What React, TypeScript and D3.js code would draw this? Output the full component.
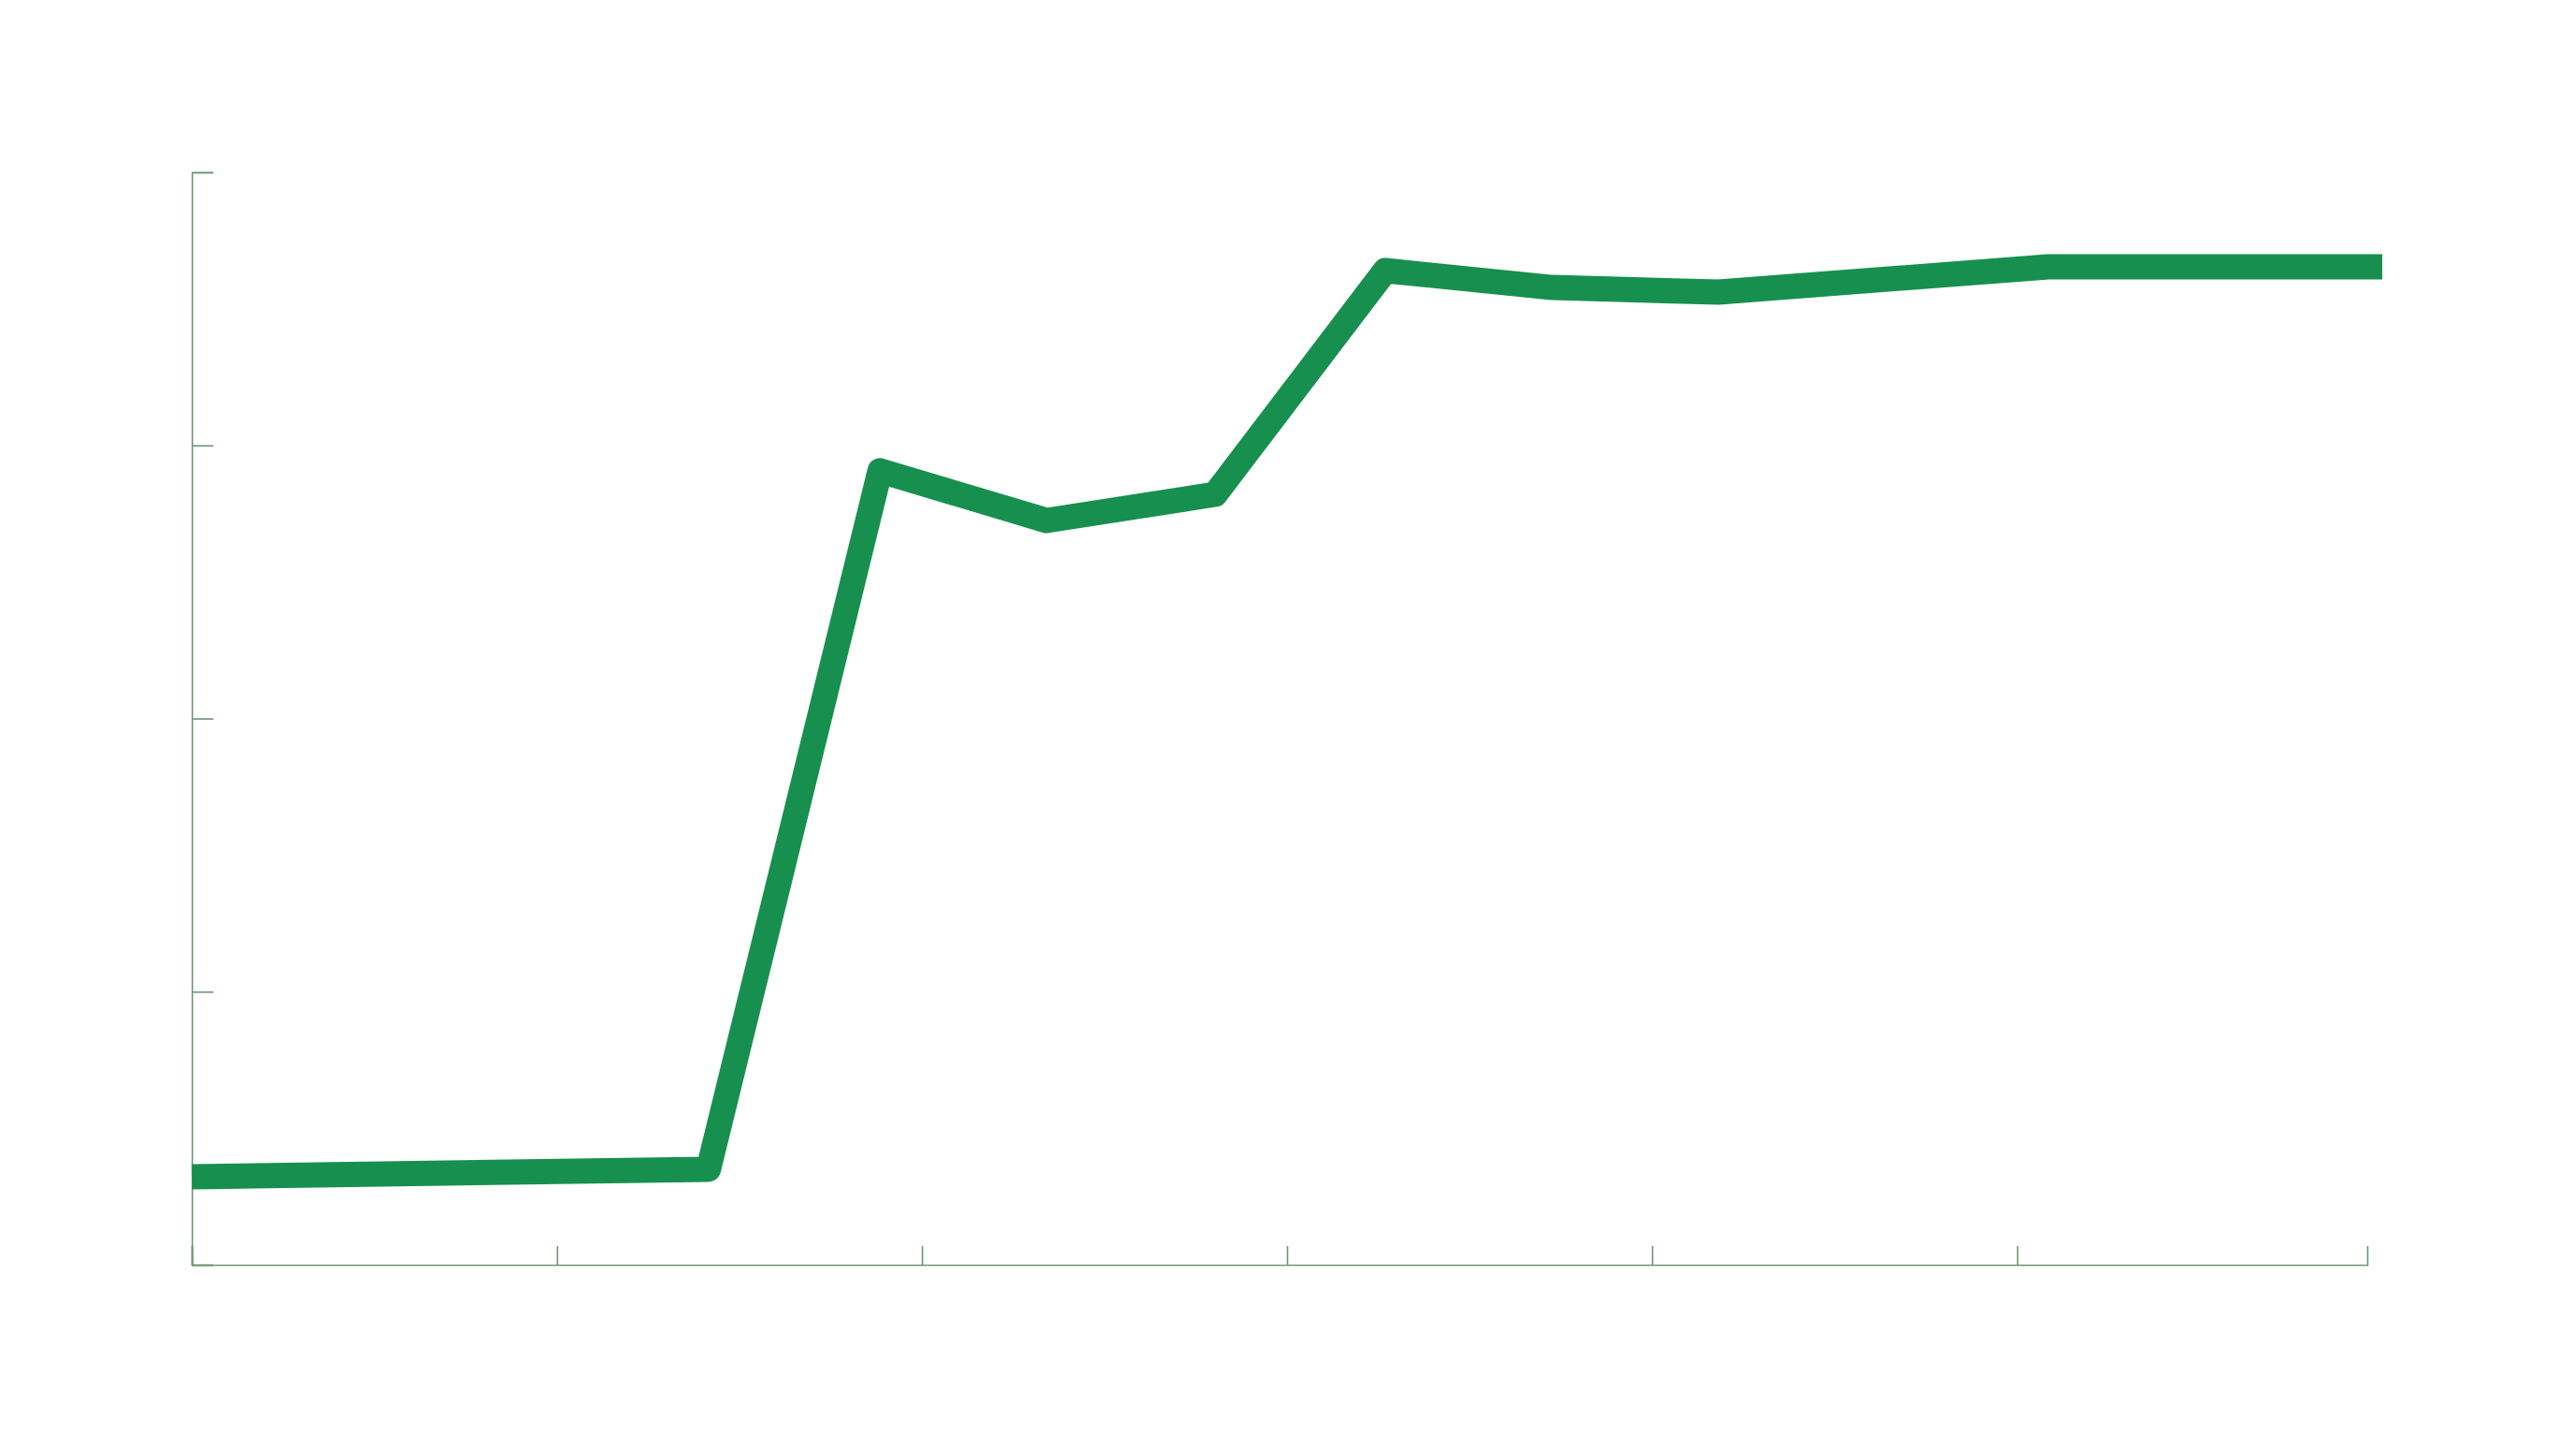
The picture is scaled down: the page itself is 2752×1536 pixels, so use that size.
import React, { useEffect, useRef } from "react";
import * as d3 from "d3";

const xValues = [0, 1.415, 1.885, 2.341, 2.803, 3.269, 3.726, 4.182, 5.085, 6.0];
const yValues = [0.322, 0.35, 2.907, 2.725, 2.821, 3.64, 3.578, 3.561, 3.654, 3.654];
const xTickValues = [0, 1, 2, 3, 4, 5];
const yTickValues = [0, 1, 2, 3, 4];

const W = 2752;
const H = 1536;

export default function App() {
  const ref = useRef<SVGSVGElement | null>(null);

  useEffect(() => {
    const svg = d3.select(ref.current);
    svg.selectAll("*").remove();

    const x = d3.scaleLinear().domain([0, 5.959]).range([205, 2529]);
    const y = d3.scaleLinear().domain([0, 4]).range([1351, 184]);
    const axisColor = "#6e9377";

    const gx = svg
      .append("g")
      .attr("transform", `translate(0,${y(0)})`)
      .call(
        d3
          .axisBottom(x)
          .tickValues(xTickValues)
          .tickSize(-20)
          .tickSizeOuter(-20)
          .tickFormat(() => "")
      );
    gx.selectAll("path,line").attr("stroke", axisColor).attr("stroke-width", 1.6);

    const gy = svg
      .append("g")
      .attr("transform", `translate(${x(0)},0)`)
      .call(
        d3
          .axisLeft(y)
          .tickValues(yTickValues)
          .tickSize(-23)
          .tickSizeOuter(-23)
          .tickFormat(() => "")
      );
    gy.selectAll("path,line").attr("stroke", axisColor).attr("stroke-width", 1.6);

    const data = xValues.map((v, i) => [v, yValues[i]] as [number, number]);
    const line = d3
      .line<[number, number]>()
      .x((d) => x(d[0]))
      .y((d) => y(d[1]));

    svg
      .append("path")
      .datum(data)
      .attr("d", line)
      .attr("fill", "none")
      .attr("stroke", "#17904f")
      .attr("stroke-width", 27)
      .attr("stroke-linejoin", "round")
      .attr("stroke-linecap", "butt");
  }, []);

  return (
    <svg
      ref={ref}
      width={W}
      height={H}
      style={{ position: "absolute", left: 0, top: 0, background: "#ffffff", display: "block" }}
    />
  );
}
